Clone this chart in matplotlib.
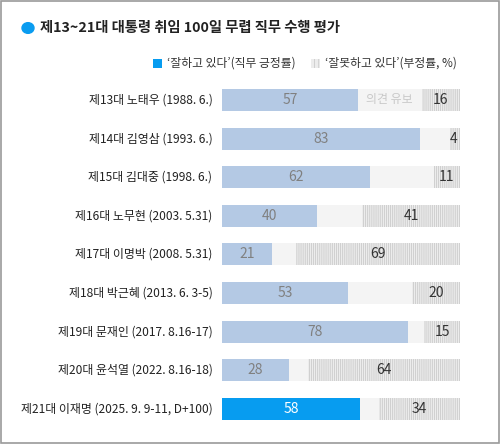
import matplotlib
matplotlib.use('Agg')
import matplotlib.pyplot as plt
from matplotlib.patches import Rectangle, Circle

plt.rcParams['font.family'] = ['Noto Sans CJK KR', 'DejaVu Sans']
plt.rcParams['hatch.linewidth'] = 0.5

# data
labels = ['제13대 노태우 (1988. 6.)', '제14대 김영삼 (1993. 6.)', '제15대 김대중 (1998. 6.)',
          '제16대 노무현 (2003. 5.31)', '제17대 이명박 (2008. 5.31)', '제18대 박근혜 (2013. 6. 3-5)',
          '제19대 문재인 (2017. 8.16-17)', '제20대 윤석열 (2022. 8.16-18)',
          '제21대 이재명 (2025. 9. 9-11, D+100)']
positive = [57, 83, 62, 40, 21, 53, 78, 28, 58]
negative = [16, 4, 11, 41, 69, 20, 15, 64, 34]

pos_color = '#b4c9e4'
cur_color = '#079cf0'
gap_color = '#f4f4f4'
neg_face = '#ececec'
neg_hatch = '#c4c4c4'

fig = plt.figure(figsize=(5, 4.44), dpi=100)

# outer frame
fig.patches.append(Rectangle((0.002, 0.002), 0.996, 0.996, transform=fig.transFigure,
                             fill=False, edgecolor='#9a9a9a', linewidth=1.2))

ax = fig.add_axes([0.444, 1 - 430 / 444, 0.476, 350 / 444])
n = len(labels)
ys = list(range(n))
h = 0.57

for i in ys:
    p, q = positive[i], negative[i]
    last = i == n - 1
    ax.barh(i, 100, height=h, color=gap_color, linewidth=0)
    ax.barh(i, p, height=h, color=cur_color if last else pos_color, linewidth=0)
    ax.barh(i, q, left=100 - q, height=h, color=neg_face, edgecolor=neg_hatch,
            hatch='||||||||', linewidth=0)
    ax.text(p / 2, i, str(p), ha='center', va='center', fontsize=10,
            color='white' if last else '#808080')
    ax.text(100 - q / 2 if q > 8 else 100 - 1, i, str(q),
            ha='center' if q > 8 else 'right', va='center', fontsize=10, color='#333333')
    ax.text(-4, i, labels[i], ha='right', va='center', fontsize=8.6, color='#222222')

# undecided note in first row
ax.text((positive[0] + 100 - negative[0]) / 2, 0, '의견 유보', ha='center', va='center',
        fontsize=8.6, color='#c8c8c8')

ax.set_xlim(0, 100)
ax.set_ylim(8.549, -0.518)
ax.axis('off')

# title
fig.patches.append(Circle((28 / 500, 1 - 28 / 444), 0.012, transform=fig.transFigure,
                          color='#0a9cf0'))
fig.text(40 / 500, 1 - 28 / 444, '제13~21대 대통령 취임 100일 무렵 직무 수행 평가',
         fontsize=10.3, fontweight='bold', va='center', ha='left', color='#222222')

# legend
fig.patches.append(Rectangle((153 / 500, 1 - 68 / 444), 9 / 500, 9 / 444,
                             transform=fig.transFigure, color=cur_color, linewidth=0))
fig.text(167 / 500, 1 - 63 / 444, '\u2018잘하고 있다\u2019(직무 긍정률)', fontsize=8.5,
         va='center', ha='left', color='#333333')
fig.patches.append(Rectangle((311 / 500, 1 - 68 / 444), 9 / 500, 9 / 444,
                             transform=fig.transFigure, facecolor=neg_face,
                             edgecolor=neg_hatch, hatch='||||', linewidth=0))
fig.text(325 / 500, 1 - 63 / 444, '\u2018잘못하고 있다\u2019(부정률, %)', fontsize=8.5,
         va='center', ha='left', color='#333333')

fig.savefig('out.png', dpi=100, facecolor='white')
